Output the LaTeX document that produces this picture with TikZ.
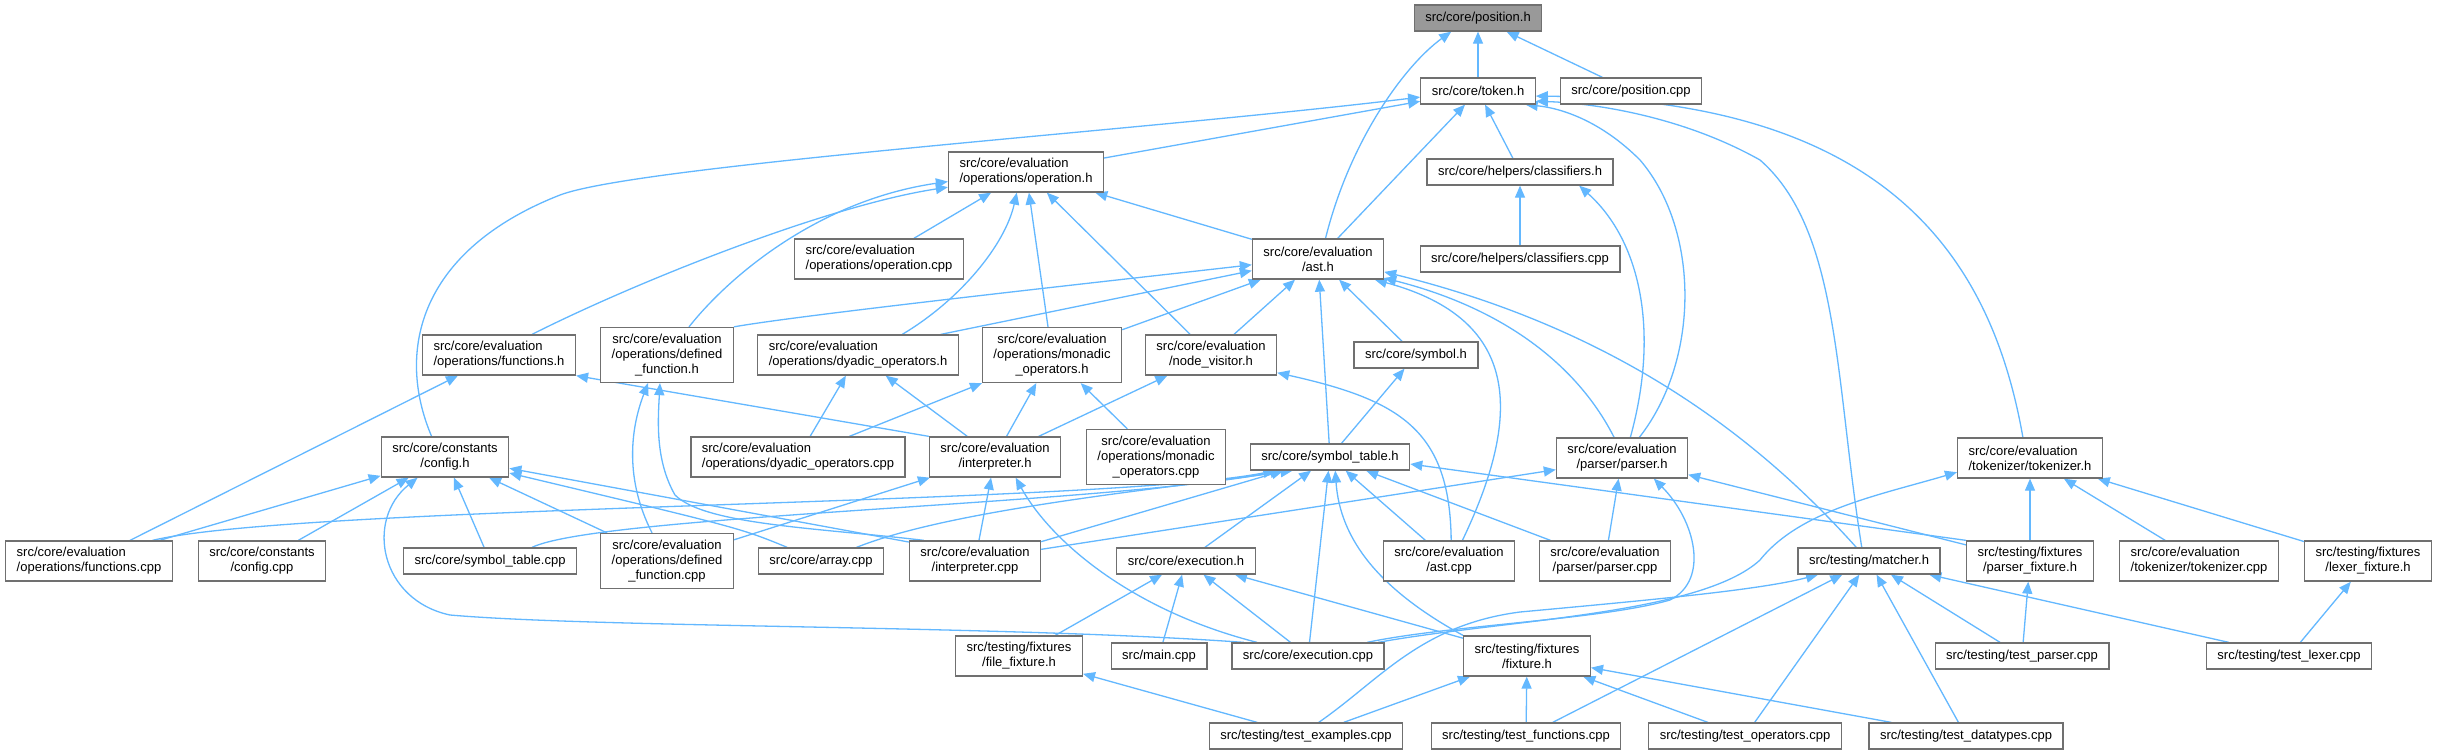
\documentclass[tikz,border=0pt]{standalone}
\usepackage{fontspec}
\setmainfont{Liberation Sans}
\usetikzlibrary{arrows.meta}
\definecolor{edgeblue}{HTML}{63B8FF}
\definecolor{boxgray}{HTML}{707070}
\definecolor{rootgray}{HTML}{999999}
\pgfdeclarelayer{edges}
\pgfsetlayers{edges,main}
\tikzset{
  file/.style={rectangle,draw=boxgray,line width=1.3pt,fill=white,font=\fontsize{13}{15}\selectfont,inner xsep=11pt,inner ysep=2pt,align=center,minimum height=26pt},
  file2/.style={file,minimum height=40pt},
  file3/.style={file,minimum height=55pt},
  rootfile/.style={file,fill=rootgray},
  dep/.style={-{Triangle[length=12pt,width=10pt]},draw=edgeblue,line width=1.3pt}
}

\begin{document}
\begin{tikzpicture}[x=1pt,y=-1pt]
\useasboundingbox (0,0) rectangle (2440,755);
\node[rootfile] (pos) at (1478,18) {src/core/position.h};
\node[file] (tok) at (1478,91) {src/core/token.h};
\node[file] (poscpp) at (1631,91) {src/core/position.cpp};
\node[file2,align=left] (oph) at (1026,172) {src/core/evaluation\\/operations/operation.h};
\node[file] (clh) at (1520,172) {src/core/helpers/classifiers.h};
\node[file2,align=left] (opcpp) at (879,259) {src/core/evaluation\\/operations/operation.cpp};
\node[file2] (ast) at (1318,259) {src/core/evaluation\\/ast.h};
\node[file] (clcpp) at (1520,259) {src/core/helpers/classifiers.cpp};
\node[file2,align=left] (funh) at (499,355) {src/core/evaluation\\/operations/functions.h};
\node[file3] (deffh) at (667,355) {src/core/evaluation\\/operations/defined\\\_function.h};
\node[file2,align=left] (dyah) at (858,355) {src/core/evaluation\\/operations/dyadic\_operators.h};
\node[file3] (monh) at (1052,355) {src/core/evaluation\\/operations/monadic\\\_operators.h};
\node[file2] (visv) at (1211,355) {src/core/evaluation\\/node\_visitor.h};
\node[file] (symh) at (1416,355) {src/core/symbol.h};
\node[file2] (cfgh) at (445,457) {src/core/constants\\/config.h};
\node[file2,align=left] (dyacpp) at (798,457) {src/core/evaluation\\/operations/dyadic\_operators.cpp};
\node[file2] (inth) at (995,457) {src/core/evaluation\\/interpreter.h};
\node[file3] (moncpp) at (1156,457) {src/core/evaluation\\/operations/monadic\\\_operators.cpp};
\node[file] (sth) at (1330,457) {src/core/symbol\_table.h};
\node[file2] (parh) at (1622,458) {src/core/evaluation\\/parser/parser.h};
\node[file2,align=left] (tokzh) at (2030,458) {src/core/evaluation\\/tokenizer/tokenizer.h};
\node[file2,align=left] (funcpp) at (89,561) {src/core/evaluation\\/operations/functions.cpp};
\node[file2] (cfgcpp) at (262,561) {src/core/constants\\/config.cpp};
\node[file] (stcpp) at (490,561) {src/core/symbol\_table.cpp};
\node[file3] (deffcpp) at (667,561) {src/core/evaluation\\/operations/defined\\\_function.cpp};
\node[file] (arrcpp) at (821,561) {src/core/array.cpp};
\node[file2] (intcpp) at (975,561) {src/core/evaluation\\/interpreter.cpp};
\node[file] (exeh) at (1186,561) {src/core/execution.h};
\node[file2] (astcpp) at (1449,561) {src/core/evaluation\\/ast.cpp};
\node[file2] (parcpp) at (1605,561) {src/core/evaluation\\/parser/parser.cpp};
\node[file] (math) at (1869,561) {src/testing/matcher.h};
\node[file2] (pfixh) at (2030,561) {src/testing/fixtures\\/parser\_fixture.h};
\node[file2,align=left] (tokzcpp) at (2199,561) {src/core/evaluation\\/tokenizer/tokenizer.cpp};
\node[file2] (lfixh) at (2368,561) {src/testing/fixtures\\/lexer\_fixture.h};
\node[file2] (ffixh) at (1019,656) {src/testing/fixtures\\/file\_fixture.h};
\node[file] (maincpp) at (1159,656) {src/main.cpp};
\node[file] (execpp) at (1308,656) {src/core/execution.cpp};
\node[file2] (fixh) at (1527,656) {src/testing/fixtures\\/fixture.h};
\node[file] (tparcpp) at (2022,656) {src/testing/test\_parser.cpp};
\node[file] (tlexcpp) at (2289,656) {src/testing/test\_lexer.cpp};
\node[file] (texcpp) at (1306,736) {src/testing/test\_examples.cpp};
\node[file] (tfuncpp) at (1526,736) {src/testing/test\_functions.cpp};
\node[file] (topcpp) at (1745,736) {src/testing/test\_operators.cpp};
\node[file] (tdtcpp) at (1966,736) {src/testing/test\_datatypes.cpp};
\begin{pgfonlayer}{edges}
\fill[white] (0,0) rectangle (2440,755);
\draw[dep] (tok) -- (pos);
\draw[dep] (poscpp) -- (pos);
\draw[dep] (ast.70) .. controls (1350,140) and (1405,65) .. (pos.207);
\draw[dep] (oph) -- (tok);
\draw[dep] (ast) -- (tok);
\draw[dep] (clh) -- (tok);
\draw[dep] (cfgh.123) .. controls (395,350) and (420,250) .. (560,195) .. controls (640,165) and (1150,130) .. (tok.186);
\draw[dep] (parh.50) .. controls (1700,360) and (1700,230) .. (1640,160) .. controls (1600,120) and (1560,108) .. (tok.-16);
\draw[dep] (math.118) .. controls (1835,380) and (1840,230) .. (1760,160) .. controls (1680,115) and (1590,103) .. (tok.-10);
\draw[dep] (tokzh.109) .. controls (1990,250) and (1880,100) .. (tok.-5);
\draw[dep] (clcpp) -- (clh);
\draw[dep] (parh.68) .. controls (1660,330) and (1640,240) .. (clh.-13);
\draw[dep] (funh.32) .. controls (640,280) and (830,205) .. (oph.191);
\draw[dep] (deffh.52) .. controls (730,275) and (820,200) .. (oph.187);
\draw[dep] (opcpp) -- (oph);
\draw[dep] (dyah.25) .. controls (960,300) and (1005,245) .. (oph.-114);
\draw[dep] (monh) -- (oph);
\draw[dep] (visv) -- (oph);
\draw[dep] (ast) -- (oph);
\draw[dep] (deffh.north east) .. controls (800,315) and (1100,282) .. (ast.185);
\draw[dep] (dyah.14) -- (ast.190);
\draw[dep] (monh) -- (ast);
\draw[dep] (visv) -- (ast);
\draw[dep] (sth) -- (ast);
\draw[dep] (symh) -- (ast);
\draw[dep] (astcpp.57) .. controls (1520,420) and (1525,320) .. (ast.-20);
\draw[dep] (parh.111) .. controls (1580,370) and (1510,310) .. (ast.-16);
\draw[dep] (math.133) .. controls (1760,440) and (1620,330) .. (ast.-11);
\draw[dep] (funcpp) -- (funh);
\draw[dep] (inth.north west) -- (funh.south east);
\draw[dep] (deffcpp.118) .. controls (625,480) and (630,430) .. (deffh.-124);
\draw[dep] (intcpp.158) .. controls (820,528) and (705,525) .. (675,495) .. controls (655,460) and (658,420) .. (deffh.-104);
\draw[dep] (dyacpp) -- (dyah);
\draw[dep] (inth) -- (dyah);
\draw[dep] (dyacpp) -- (monh);
\draw[dep] (inth) -- (monh);
\draw[dep] (moncpp) -- (monh);
\draw[dep] (inth) -- (visv);
\draw[dep] (astcpp.84) .. controls (1450,430) and (1400,400) .. (visv.-15);
\draw[dep] (deffcpp) -- (inth);
\draw[dep] (intcpp) -- (inth);
\draw[dep] (execpp.165) .. controls (1130,610) and (1050,540) .. (inth.-45);
\draw[dep] (sth) -- (symh);
\draw[dep] (funcpp) -- (cfgh);
\draw[dep] (cfgcpp) -- (cfgh);
\draw[dep] (stcpp) -- (cfgh);
\draw[dep] (deffcpp) -- (cfgh);
\draw[dep] (arrcpp.158) .. controls (740,528) .. (cfgh.-14);
\draw[dep] (intcpp.164) -- (cfgh.-10);
\draw[dep] (execpp.168) .. controls (1000,625) and (600,628) .. (450,615) .. controls (380,600) and (365,520) .. (cfgh.-143);
\draw[dep] (funcpp.18) .. controls (300,505) and (1100,505) .. (sth.-166);
\draw[dep] (stcpp.18) .. controls (600,515) and (1100,505) .. (sth.-164);
\draw[dep] (arrcpp.21) .. controls (950,510) and (1150,490) .. (sth.-160);
\draw[dep] (intcpp) -- (sth);
\draw[dep] (exeh) -- (sth);
\draw[dep] (execpp) -- (sth);
\draw[dep] (fixh.north west) .. controls (1380,590) and (1340,540) .. (sth.-69);
\draw[dep] (astcpp) -- (sth);
\draw[dep] (parcpp) -- (sth);
\draw[dep] (pfixh.north west) -- (sth.-5);
\draw[dep] (intcpp.10) -- (parh.190);
\draw[dep] (parcpp) -- (parh);
\draw[dep] (pfixh) -- (parh);
\draw[dep] (execpp.13) .. controls (1450,625) and (1600,620) .. (1670,600) .. controls (1710,580) and (1695,520) .. (parh.-33);
\draw[dep] (execpp.11) .. controls (1500,620) and (1700,615) .. (1760,560) .. controls (1800,510) and (1880,495) .. (tokzh.-169);
\draw[dep] (pfixh) -- (tokzh);
\draw[dep] (tokzcpp) -- (tokzh);
\draw[dep] (lfixh) -- (tokzh);
\draw[dep] (texcpp.47) .. controls (1380,680) and (1420,625) .. (1520,612) .. controls (1650,600) and (1760,590) .. (math.-165);
\draw[dep] (tfuncpp) -- (math);
\draw[dep] (topcpp) -- (math);
\draw[dep] (tdtcpp) -- (math);
\draw[dep] (tparcpp) -- (math);
\draw[dep] (tlexcpp) -- (math);
\draw[dep] (tparcpp) -- (pfixh);
\draw[dep] (tlexcpp) -- (lfixh);
\draw[dep] (texcpp) -- (fixh);
\draw[dep] (tfuncpp) -- (fixh);
\draw[dep] (topcpp) -- (fixh);
\draw[dep] (tdtcpp) -- (fixh);
\draw[dep] (texcpp) -- (ffixh);
\draw[dep] (ffixh) -- (exeh);
\draw[dep] (maincpp) -- (exeh);
\draw[dep] (execpp) -- (exeh);
\draw[dep] (fixh) -- (exeh);
\end{pgfonlayer}
\end{tikzpicture}
\end{document}
